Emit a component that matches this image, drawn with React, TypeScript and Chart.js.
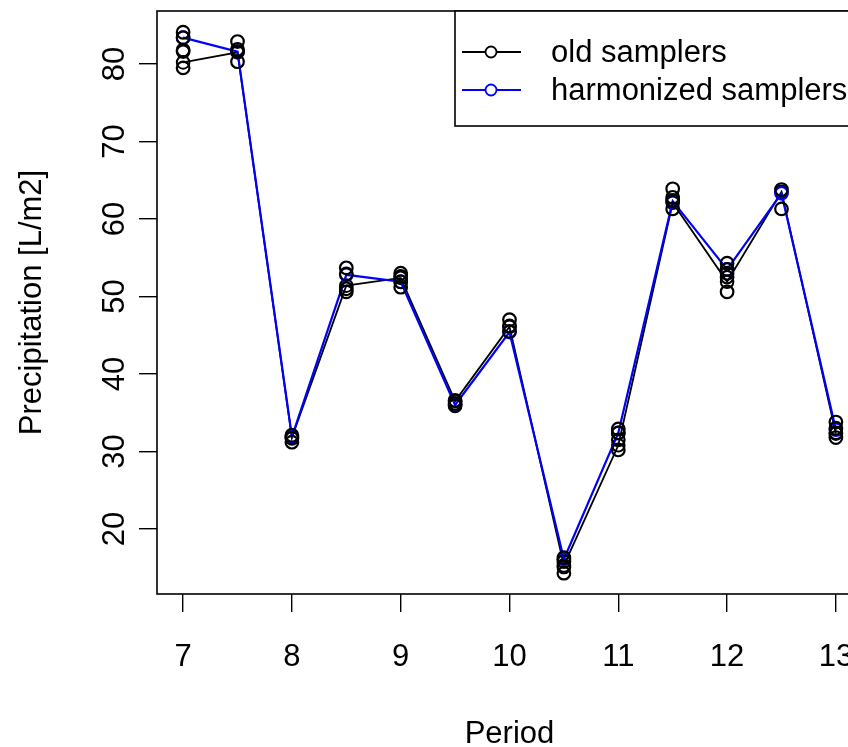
import React, { useEffect, useRef } from "react";
import { Chart, registerables } from "chart.js";

Chart.register(...registerables);

const periods = [7, 7.5, 8, 8.5, 9, 9.5, 10, 10.5, 11, 11.5, 12, 12.5, 13];
const oldSamplers = [80.2, 81.5, 31.8, 51.4, 52.4, 36.5, 46.1, 15.3, 30.8, 62.1, 51.9, 63.5, 32.3];
const harmonizedSamplers = [83.4, 81.6, 31.9, 52.8, 51.9, 36.0, 45.4, 16.1, 32.4, 62.3, 53.5, 63.3, 32.8];
const samplerReadings = [
  [84.1, 83.4, 81.8, 81.6, 79.5],
  [82.9, 81.9, 81.6, 80.3],
  [32.1, 31.7, 31.2],
  [53.7, 52.9, 51.0, 50.6],
  [53.0, 52.6, 51.9, 51.2],
  [36.6, 36.2, 35.9],
  [47.0, 46.2, 45.5],
  [16.3, 15.8, 15.1, 14.3],
  [32.9, 32.4, 31.5, 30.2],
  [63.9, 62.8, 62.4, 61.3],
  [54.3, 53.5, 53.0, 52.5, 50.6],
  [63.8, 61.3],
  [33.8, 33.0, 32.4, 31.8],
];
const xTicks = [7, 8, 9, 10, 11, 12, 13];
const yTicks = [20, 30, 40, 50, 60, 70, 80];
const seriesNames = ["old samplers", "harmonized samplers"];
const seriesColors = ["#000000", "#0000ff"];
const xTitle = "Period";
const yTitle = "Precipitation [L/m2]";

const FONT = "'Liberation Sans', Arial, Helvetica, sans-serif";
const FS = 31;

const framePlugin = {
  id: "rFrame",
  afterDatasetsDraw(chart: any) {
    const { ctx, chartArea: a } = chart;
    ctx.save();
    ctx.strokeStyle = "#000";
    ctx.lineWidth = 1.6;
    ctx.strokeRect(a.left, a.top, a.right - a.left, a.bottom - a.top);

    // legend box (top-right, inside plot region)
    const lx = a.left + 298;
    const lt = a.top;
    const lb = a.top + 115;
    ctx.fillStyle = "#fff";
    ctx.fillRect(lx, lt, a.right - lx, lb - lt);
    ctx.strokeRect(lx, lt, a.right - lx, lb - lt);
    ctx.font = `${FS}px ${FONT}`;
    ctx.textBaseline = "middle";
    ctx.textAlign = "left";
    const rows = [lt + 41, lt + 79];
    seriesNames.forEach((name, i) => {
      const y = rows[i];
      ctx.strokeStyle = seriesColors[i];
      ctx.lineWidth = 1.8;
      ctx.beginPath();
      ctx.moveTo(lx + 7, y);
      ctx.lineTo(lx + 66, y);
      ctx.stroke();
      ctx.beginPath();
      ctx.arc(lx + 36, y, 5.5, 0, Math.PI * 2);
      ctx.fillStyle = "#fff";
      ctx.fill();
      ctx.stroke();
      ctx.fillStyle = "#000";
      ctx.fillText(name, lx + 96, y + 1);
    });
    ctx.restore();
  },
};

export default function App() {
  const ref = useRef<HTMLCanvasElement | null>(null);

  useEffect(() => {
    if (!ref.current) return;
    const scatterPts: { x: number; y: number }[] = [];
    periods.forEach((p, i) => samplerReadings[i].forEach((v) => scatterPts.push({ x: p, y: v })));

    const chart = new Chart(ref.current, {
      type: "line",
      data: {
        datasets: [
          {
            label: "samplers",
            data: scatterPts,
            showLine: false,
            borderColor: "#000",
            backgroundColor: "transparent",
            pointRadius: 6.3,
            pointBorderWidth: 2.2,
            pointBorderColor: "#000",
            pointBackgroundColor: "transparent",
            order: 0,
          },
          {
            label: seriesNames[1],
            data: periods.map((p, i) => ({ x: p, y: harmonizedSamplers[i] })),
            borderColor: seriesColors[1],
            backgroundColor: "transparent",
            borderWidth: 2.2,
            pointRadius: 6.3,
            pointBorderWidth: 2,
            pointBorderColor: seriesColors[1],
            pointBackgroundColor: "transparent",
            tension: 0,
            order: 1,
          },
          {
            label: seriesNames[0],
            data: periods.map((p, i) => ({ x: p, y: oldSamplers[i] })),
            borderColor: seriesColors[0],
            backgroundColor: "transparent",
            borderWidth: 1.8,
            pointRadius: 6.3,
            pointBorderWidth: 2,
            pointBorderColor: seriesColors[0],
            pointBackgroundColor: "transparent",
            tension: 0,
            order: 2,
          },
        ],
      },
      options: {
        animation: false,
        responsive: false,
        devicePixelRatio: 1,
        layout: { padding: { top: 11, right: 18, left: 0, bottom: 0 } },
        plugins: { legend: { display: false }, tooltip: { enabled: false } },
        scales: {
          x: {
            type: "linear",
            min: 6.76,
            max: 13.24,
            afterBuildTicks: (s: any) => {
              s.ticks = xTicks.map((v) => ({ value: v }));
            },
            afterFit: (s: any) => {
              s.height = 153;
              s.paddingLeft = 0;
              s.paddingRight = 0;
              s.paddingTop = 0;
              s.paddingBottom = 0;
            },
            border: { display: false },
            grid: {
              drawOnChartArea: false,
              drawTicks: true,
              tickLength: 18,
              color: "#000",
              lineWidth: 1.4,
            },
            ticks: {
              color: "#000",
              font: { family: FONT, size: FS },
              padding: 27,
              maxRotation: 0,
              autoSkip: false,
            },
            title: {
              display: true,
              text: xTitle,
              color: "#000",
              font: { family: FONT, size: FS, lineHeight: 1 },
              padding: { top: 0, bottom: -3 },
            },
          },
          y: {
            type: "linear",
            min: 11.61,
            max: 86.84,
            afterBuildTicks: (s: any) => {
              s.ticks = yTicks.map((v) => ({ value: v }));
            },
            afterFit: (s: any) => {
              s.width = 157;
              s.paddingLeft = 0;
              s.paddingRight = 0;
              s.paddingTop = 0;
              s.paddingBottom = 0;
            },
            border: { display: false },
            grid: {
              drawOnChartArea: false,
              drawTicks: true,
              tickLength: 18,
              color: "#000",
              lineWidth: 1.4,
            },
            ticks: {
              color: "#000",
              font: { family: FONT, size: FS },
              padding: 6,
              minRotation: 90,
              maxRotation: 90,
              crossAlign: "center",
              autoSkip: false,
            },
            title: {
              display: true,
              text: yTitle,
              color: "#000",
              font: { family: FONT, size: FS, lineHeight: 1 },
              padding: { top: 17, bottom: 0 },
            },
          },
        },
      },
      plugins: [framePlugin],
    } as any);
    return () => chart.destroy();
  }, []);

  return (
    <div
      style={{
        position: "absolute",
        left: 0,
        top: 0,
        width: 848,
        height: 747,
        overflow: "hidden",
        background: "#fff",
      }}
    >
      <canvas ref={ref} width={880} height={747} style={{ width: 880, height: 747, display: "block" }} />
    </div>
  );
}
